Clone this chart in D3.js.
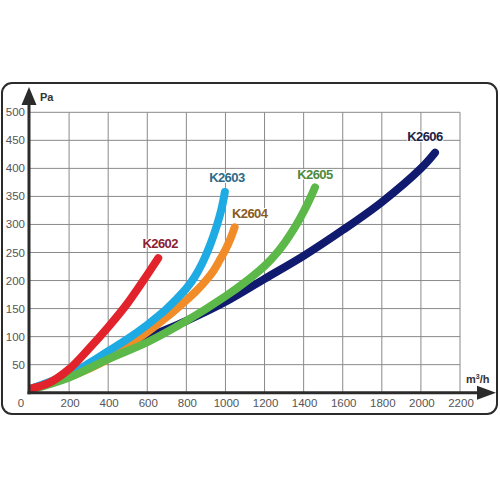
<!DOCTYPE html>
<html>
<head>
<meta charset="utf-8">
<script src="https://cdn.jsdelivr.net/npm/d3@7"></script>
<style>
  body { margin: 0; background: #fff; }
  svg { display: block; font-family: "Liberation Sans", Arial, sans-serif; }
</style>
</head>
<body>
<svg id="chart" width="500" height="500"></svg>
<script>
// values: [m3/h, Pa]
const k2602 = [[12,8],[100,18],[200,42],[300,78],[400,117],[500,160],[580,200],[656,240]]
const k2603 = [[12,8],[200,33],[300,52],[400,74],[500,96],[600,121],[650,135],[700,150],[750,167],[800,186],[840,205],[880,230],[920,262],[955,297],[980,328],[997,358]]
const k2604 = [[12,8],[200,28],[400,60],[500,84],[600,108],[700,135],[800,165],[850,181],[900,200],[940,218],[970,236],[1000,255],[1025,274],[1047,295]]
const k2605 = [[12,6],[200,27],[400,60],[600,90],[800,128],[1000,172],[1100,197],[1200,226],[1250,244],[1300,266],[1350,292],[1400,323],[1430,344],[1458,366]]
const k2606 = [[12,7],[200,30],[400,66],[600,98],[800,128],[1000,162],[1200,203],[1400,244],[1600,290],[1800,340],[2000,400],[2072,428]]

const xTicks = [0,200,400,600,800,1000,1200,1400,1600,1800,2000,2200]
const yTicks = [50,100,150,200,250,300,350,400,450,500]

// drawing order: bottom first
const series = [
  {name: "K2606", data: k2606, color: "#101a6e", label: "#1c2346", dx: -10, dy: 12},
  {name: "K2604", data: k2604, color: "#f28c28", label: "#8a5a22", dx: 15, dy: 9},
  {name: "K2603", data: k2603, color: "#1eaae2", label: "#2c6a88", dx: 2, dy: 10},
  {name: "K2605", data: k2605, color: "#5cb848", label: "#4e8a3e", dx: 0, dy: 8},
  {name: "K2602", data: k2602, color: "#e3232b", label: "#8a2232", dx: 2, dy: 10}
]

const svg = d3.select("#chart")

var x = d3.scaleLinear().domain([0, 2200]).range([30, 460]),
    y = d3.scaleLinear().domain([0, 500]).range([392.7, 112.3]);

// frame
svg.append("rect")
  .attr("x", 2).attr("y", 83)
  .attr("width", 495).attr("height", 331)
  .attr("rx", 10)
  .attr("fill", "#fff")
  .attr("stroke", "#2b2b2b")
  .attr("stroke-width", 2)

// grid
svg.append("g")
  .selectAll("line")
  .data(xTicks.slice(1))
  .enter().append("line")
    .attr("x1", d => x(d)).attr("x2", d => x(d))
    .attr("y1", y(0)).attr("y2", y(500))
    .attr("stroke", "#8a8a8a").attr("stroke-width", 1)

svg.append("g")
  .selectAll("line")
  .data(yTicks)
  .enter().append("line")
    .attr("x1", x(0)).attr("x2", x(2200))
    .attr("y1", d => y(d)).attr("y2", d => y(d))
    .attr("stroke", "#8a8a8a").attr("stroke-width", 1)

// tick labels
svg.append("g")
  .selectAll("text")
  .data(yTicks)
  .enter().append("text")
    .attr("x", 25)
    .attr("y", d => y(d))
    .attr("dy", "0.35em")
    .attr("text-anchor", "end")
    .attr("font-size", 11.5)
    .attr("fill", "#555")
    .text(d => d)

svg.append("g")
  .selectAll("text")
  .data(xTicks)
  .enter().append("text")
    .attr("x", d => d === 0 ? x(0) - 9 : x(d) + 1)
    .attr("y", 407)
    .attr("text-anchor", "middle")
    .attr("font-size", 11.5)
    .attr("fill", "#555")
    .text(d => d)

// curves
var line = d3.line()
    .x(d => x(d[0]))
    .y(d => y(d[1]))
    .curve(d3.curveCatmullRom.alpha(0.5))

svg.append("g")
  .selectAll("path")
  .data(series)
  .enter().append("path")
    .attr("d", d => line(d.data))
    .attr("fill", "none")
    .attr("stroke", d => d.color)
    .attr("stroke-width", 8)
    .attr("stroke-linecap", "round")
    .attr("stroke-linejoin", "round")

// axes with arrows
var axes = svg.append("g").attr("fill", "#2b2b2b").attr("stroke", "#2b2b2b")
axes.append("line")
  .attr("x1", x(0) - 1).attr("x2", x(0) - 1)
  .attr("y1", y(0) + 1.5).attr("y2", 100)
  .attr("stroke-width", 3)
axes.append("path")
  .attr("stroke", "none")
  .attr("d", "M" + (x(0) - 1) + ",87 L" + (x(0) - 8.5) + ",105 L" + (x(0) + 6.5) + ",105 Z")
axes.append("line")
  .attr("x1", x(0) - 2.5).attr("x2", 482)
  .attr("y1", y(0)).attr("y2", y(0))
  .attr("stroke-width", 3)
axes.append("path")
  .attr("stroke", "none")
  .attr("d", "M496," + y(0) + " L477," + (y(0) - 7) + " L477," + (y(0) + 7) + " Z")

// axis units
svg.append("text")
  .attr("x", 40).attr("y", 101)
  .attr("font-size", 11).attr("font-weight", "bold").attr("fill", "#333")
  .text("Pa")

var unit = svg.append("text")
  .attr("x", 466).attr("y", 383)
  .attr("font-size", 11).attr("font-weight", "bold").attr("fill", "#333")
unit.append("tspan").text("m")
unit.append("tspan").attr("font-size", 7).attr("dy", -4).text("3")
unit.append("tspan").attr("dy", 4).text("/h")

// curve labels
svg.append("g")
  .selectAll("text")
  .data(series)
  .enter().append("text")
    .attr("x", d => x(d.data[d.data.length - 1][0]) + d.dx)
    .attr("y", d => y(d.data[d.data.length - 1][1]) - d.dy)
    .attr("text-anchor", "middle")
    .attr("font-size", 13)
    .attr("font-weight", "bold")
    .attr("letter-spacing", -0.6)
    .attr("fill", d => d.label)
    .attr("stroke", "#fff")
    .attr("stroke-width", 2)
    .attr("paint-order", "stroke")
    .text(d => d.name)
</script>
</body>
</html>
